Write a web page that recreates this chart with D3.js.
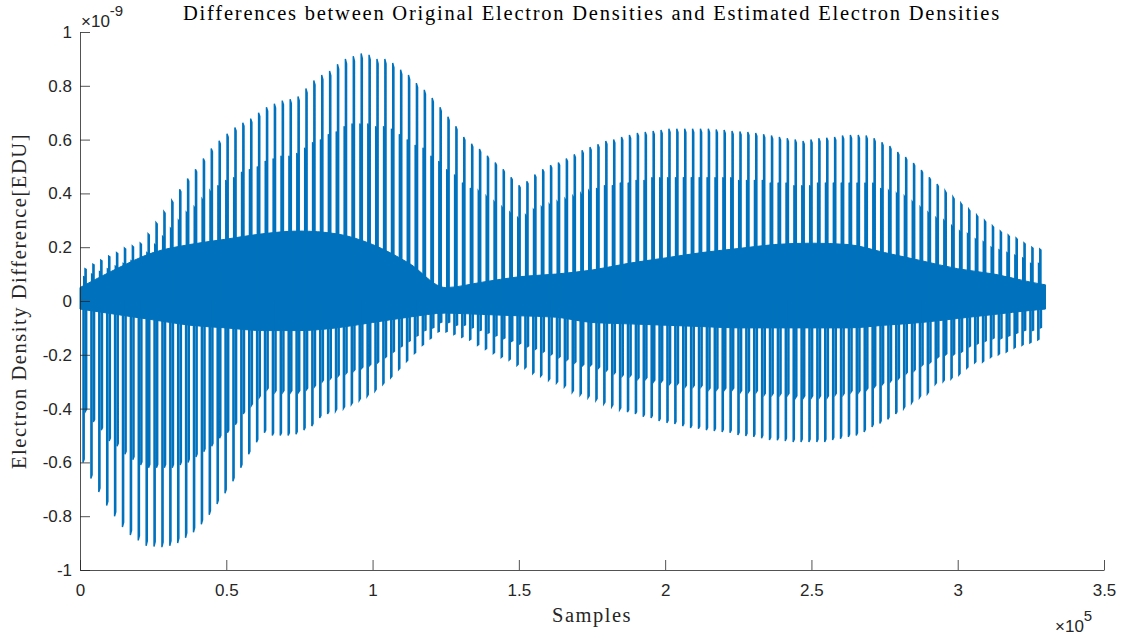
<!DOCTYPE html>
<html>
<head>
<meta charset="utf-8">
<script src="https://cdn.jsdelivr.net/npm/d3@7"></script>
<style>
  html, body { margin: 0; padding: 0; background: #ffffff; }
  svg { display: block; }
</style>
</head>
<body>
<svg id="chart" width="1130" height="637"></svg>
<script>
// ---------------- data (values in units of 1e-9 EDU, x in samples) ----------------
const titleText = "Differences between Original Electron Densities and Estimated Electron Densities";
const xLabelText = "Samples";
const yLabelText = "Electron Density Difference[EDU]";
const xTickValues = [0, 50000, 100000, 150000, 200000, 250000, 300000, 350000];
const xTickLabels = ["0", "0.5", "1", "1.5", "2", "2.5", "3", "3.5"];
const yTickValues = [-1, -0.8, -0.6, -0.4, -0.2, 0, 0.2, 0.4, 0.6, 0.8, 1];
const yTickLabels = ["-1", "-0.8", "-0.6", "-0.4", "-0.2", "0", "0.2", "0.4", "0.6", "0.8", "1"];

// spike train: one repetition every spikeStepSamples samples
const spikeFirstSample = 1700;
const spikeStepSamples = 2697;
const negSpikeOffsetSamples = -680;
const secondaryOffsetSamples = -450;

const spikeTops = [
  0.12, 0.137, 0.152, 0.167, 0.18, 0.197, 0.205, 0.215, 0.25, 0.292,
  0.333, 0.374, 0.415, 0.455, 0.49, 0.53, 0.567, 0.596, 0.622, 0.645,
  0.663, 0.678, 0.70, 0.72, 0.733, 0.745, 0.75, 0.76, 0.79, 0.82,
  0.84, 0.855, 0.88, 0.90, 0.91, 0.92, 0.915, 0.90, 0.90, 0.885,
  0.86, 0.84, 0.81, 0.785, 0.755, 0.72, 0.685, 0.65, 0.61, 0.585,
  0.565, 0.54, 0.515, 0.49, 0.46, 0.43, 0.445, 0.47, 0.49, 0.505,
  0.515, 0.53, 0.545, 0.56, 0.572, 0.583, 0.595, 0.60, 0.61, 0.617,
  0.625, 0.628, 0.632, 0.636, 0.64, 0.64, 0.64, 0.64, 0.64, 0.64,
  0.638, 0.636, 0.632, 0.63, 0.628, 0.625, 0.62, 0.615, 0.61, 0.605,
  0.60, 0.595, 0.60, 0.605, 0.607, 0.61, 0.615, 0.617, 0.617, 0.615,
  0.605, 0.59, 0.576, 0.554, 0.535, 0.513, 0.487, 0.46, 0.435, 0.41,
  0.387, 0.364, 0.342, 0.32, 0.30, 0.28, 0.26, 0.245, 0.234, 0.216,
  0.20, 0.193
];

const spikeBottoms = [
  -0.60, -0.66, -0.71, -0.76, -0.80, -0.84, -0.87, -0.89, -0.91, -0.913,
  -0.915, -0.91, -0.90, -0.88, -0.86, -0.83, -0.795, -0.755, -0.715, -0.67,
  -0.62, -0.57, -0.525, -0.49, -0.50, -0.50, -0.50, -0.495, -0.48, -0.465,
  -0.435, -0.42, -0.41, -0.40, -0.385, -0.37, -0.355, -0.335, -0.31, -0.285,
  -0.255, -0.225, -0.195, -0.165, -0.14, -0.115, -0.115, -0.125, -0.135, -0.145,
  -0.165, -0.18, -0.195, -0.21, -0.22, -0.24, -0.25, -0.27, -0.28, -0.295,
  -0.305, -0.32, -0.34, -0.35, -0.36, -0.37, -0.383, -0.394, -0.405, -0.413,
  -0.42, -0.43, -0.435, -0.446, -0.453, -0.457, -0.465, -0.472, -0.475, -0.48,
  -0.483, -0.487, -0.49, -0.498, -0.502, -0.505, -0.51, -0.517, -0.518, -0.52,
  -0.524, -0.524, -0.524, -0.524, -0.524, -0.517, -0.512, -0.505, -0.50, -0.487,
  -0.468, -0.455, -0.44, -0.42, -0.40, -0.38, -0.36, -0.345, -0.31, -0.30,
  -0.29, -0.275, -0.25, -0.23, -0.227, -0.21, -0.20, -0.19, -0.175, -0.165,
  -0.156, -0.145
];

// lower companion spikes next to each main spike
const secondaryTops = [
  0.09, 0.10, 0.11, 0.12, 0.13, 0.14, 0.15, 0.15, 0.18, 0.21,
  0.24, 0.27, 0.30, 0.33, 0.35, 0.38, 0.41, 0.43, 0.45, 0.46,
  0.48, 0.49, 0.50, 0.52, 0.53, 0.54, 0.54, 0.55, 0.57, 0.59,
  0.60, 0.62, 0.63, 0.65, 0.66, 0.66, 0.66, 0.65, 0.65, 0.64,
  0.62, 0.60, 0.58, 0.57, 0.54, 0.52, 0.49, 0.47, 0.44, 0.42,
  0.41, 0.39, 0.37, 0.35, 0.33, 0.31, 0.32, 0.34, 0.35, 0.36,
  0.37, 0.38, 0.39, 0.40, 0.41, 0.42, 0.43, 0.43, 0.44, 0.44,
  0.45, 0.45, 0.46, 0.46, 0.46, 0.46, 0.46, 0.46, 0.46, 0.46,
  0.46, 0.46, 0.46, 0.45, 0.45, 0.45, 0.45, 0.44, 0.44, 0.44,
  0.43, 0.43, 0.43, 0.44, 0.44, 0.44, 0.44, 0.44, 0.44, 0.44,
  0.44, 0.42, 0.41, 0.40, 0.39, 0.37, 0.35, 0.33, 0.31, 0.30,
  0.28, 0.26, 0.25, 0.23, 0.22, 0.20, 0.19, 0.18, 0.17, 0.16,
  0.14, 0.14
];
const secondaryBottoms = [
  -0.41, -0.45, -0.48, -0.52, -0.54, -0.57, -0.59, -0.61, -0.62, -0.62,
  -0.62, -0.62, -0.61, -0.60, -0.58, -0.56, -0.54, -0.51, -0.49, -0.46,
  -0.42, -0.39, -0.36, -0.33, -0.34, -0.34, -0.34, -0.34, -0.33, -0.32,
  -0.30, -0.29, -0.28, -0.27, -0.26, -0.25, -0.24, -0.23, -0.21, -0.19,
  -0.17, -0.15, -0.13, -0.11, -0.10, -0.08, -0.08, -0.09, -0.09, -0.10,
  -0.11, -0.12, -0.13, -0.14, -0.15, -0.16, -0.17, -0.18, -0.19, -0.20,
  -0.21, -0.22, -0.23, -0.24, -0.24, -0.25, -0.26, -0.27, -0.28, -0.28,
  -0.29, -0.29, -0.30, -0.30, -0.31, -0.31, -0.32, -0.32, -0.32, -0.33,
  -0.33, -0.33, -0.33, -0.34, -0.34, -0.34, -0.35, -0.35, -0.35, -0.35,
  -0.36, -0.36, -0.36, -0.36, -0.36, -0.35, -0.35, -0.34, -0.34, -0.33,
  -0.32, -0.31, -0.30, -0.29, -0.27, -0.26, -0.24, -0.23, -0.21, -0.20,
  -0.20, -0.19, -0.17, -0.16, -0.15, -0.14, -0.14, -0.13, -0.12, -0.11,
  -0.11, -0.10
];

// dense inner oscillation band (envelope)
const bandX = [0, 12500, 25000, 37500, 50000, 62500, 75000, 87500, 100000, 112500,
  125000, 137500, 150000, 162500, 175000, 187500, 200000, 212500, 225000, 237500,
  250000, 262500, 275000, 287500, 300000, 312500, 325000, 330000];
const bandUpper = [0.05, 0.12, 0.18, 0.21, 0.23, 0.25, 0.26, 0.25, 0.21, 0.14,
  0.05, 0.07, 0.09, 0.10, 0.115, 0.14, 0.16, 0.18, 0.195, 0.21,
  0.215, 0.21, 0.18, 0.15, 0.12, 0.10, 0.07, 0.06];
const bandLower = [-0.03, -0.05, -0.07, -0.09, -0.10, -0.11, -0.11, -0.10, -0.08, -0.06,
  -0.045, -0.05, -0.055, -0.06, -0.08, -0.085, -0.09, -0.095, -0.10, -0.10,
  -0.10, -0.10, -0.09, -0.08, -0.065, -0.05, -0.035, -0.03];

// ---------------- drawing ----------------
const W = 1130, H = 637;
const margin = {left: 80, right: 26, top: 32, bottom: 67};
const svg = d3.select("#chart");
const x = d3.scaleLinear().domain([0, 350000]).range([margin.left, W - margin.right]);
const y = d3.scaleLinear().domain([-1, 1]).range([H - margin.bottom, margin.top]);

const lineColor = "#0072BD";
const axisColor = "#262626";
const sansFont = "'Liberation Sans', Arial, Helvetica, sans-serif";
const serifFont = "'Liberation Serif', 'Times New Roman', serif";

const plot = svg.append("g");

const bandData = bandX.map((v, i) => ({x: v, u: bandUpper[i], l: bandLower[i]}));
plot.append("path")
  .datum(bandData)
  .attr("fill", lineColor)
  .attr("stroke", lineColor)
  .attr("stroke-width", 1)
  .attr("d", d3.area().x(d => x(d.x)).y0(d => y(d.l)).y1(d => y(d.u)).curve(d3.curveMonotoneX));

const spikes = spikeTops.map((t, i) => ({
  xs: spikeFirstSample + i * spikeStepSamples,
  top: t,
  bottom: spikeBottoms[i],
  top2: secondaryTops[i],
  bottom2: secondaryBottoms[i]
}));
const retWidth = 420; // samples between a spike's rise and its return
function spikeStroke(path, xs, v) {
  path.moveTo(x(xs), y(0));
  path.lineTo(x(xs), y(v));
  path.lineTo(x(xs + retWidth), y(v * 0.98));
  path.lineTo(x(xs + retWidth), y(0));
}
const pMain = d3.path();
const pSec = d3.path();
spikes.forEach(s => {
  const xb = s.xs + negSpikeOffsetSamples;
  spikeStroke(pMain, xb, s.bottom);
  spikeStroke(pMain, s.xs, s.top);
  spikeStroke(pSec, s.xs + secondaryOffsetSamples, s.top2);
  spikeStroke(pSec, xb - secondaryOffsetSamples + retWidth, s.bottom2);
});
plot.append("path")
  .attr("d", pSec.toString())
  .attr("fill", "none")
  .attr("stroke", lineColor)
  .attr("stroke-width", 1.3);
plot.append("path")
  .attr("d", pMain.toString())
  .attr("fill", "none")
  .attr("stroke", lineColor)
  .attr("stroke-width", 1.4);

// ---------------- axes ----------------
const xAxis = d3.axisBottom(x).tickValues(xTickValues)
  .tickFormat((d, i) => xTickLabels[i]).tickSizeInner(-10).tickSizeOuter(0).tickPadding(14);
const yAxis = d3.axisLeft(y).tickValues(yTickValues)
  .tickFormat((d, i) => yTickLabels[i]).tickSizeInner(-10).tickSizeOuter(0).tickPadding(8);

const gx = svg.append("g").attr("transform", `translate(0,${H - margin.bottom})`).call(xAxis);
const gy = svg.append("g").attr("transform", `translate(${margin.left},0)`).call(yAxis);
[gx, gy].forEach(g => {
  g.select(".domain").attr("stroke", axisColor).attr("stroke-width", 0.8);
  g.selectAll(".tick line").attr("stroke", axisColor).attr("stroke-width", 0.8);
  g.selectAll(".tick text").attr("fill", axisColor).style("font-family", sansFont).style("font-size", "17px");
});

// exponent labels
const expY = svg.append("text").attr("x", margin.left + 1).attr("y", 27)
  .style("font-family", sansFont).style("font-size", "17px").attr("fill", axisColor);
expY.append("tspan").text("\u00D710");
expY.append("tspan").attr("dy", -11).style("font-size", "15px").text("-9");

const expX = svg.append("text").attr("x", 1055).attr("y", 632)
  .style("font-family", sansFont).style("font-size", "17px").attr("fill", axisColor);
expX.append("tspan").text("\u00D710");
expX.append("tspan").attr("dy", -11).style("font-size", "15px").text("5");

// title and labels, spaced to the reference widths
function fitSpacing(sel, targetWidth, size) {
  sel.style("font-size", size + "px").style("letter-spacing", "0px");
  const w = sel.node().getComputedTextLength();
  const n = sel.text().length;
  sel.style("letter-spacing", ((targetWidth - w) / n).toFixed(3) + "px");
}
const cx = (margin.left + W - margin.right) / 2;
const title = svg.append("text").attr("x", cx).attr("y", 20).attr("text-anchor", "middle")
  .style("font-family", serifFont).attr("fill", "#000").text(titleText);
fitSpacing(title, 818, 20.5);

const xl = svg.append("text").attr("x", cx).attr("y", 622).attr("text-anchor", "middle")
  .style("font-family", serifFont).attr("fill", axisColor).text(xLabelText);
fitSpacing(xl, 80, 20.5);

const yl = svg.append("text").attr("transform", `translate(26,${(margin.top + H - margin.bottom) / 2}) rotate(-90)`)
  .attr("text-anchor", "middle")
  .style("font-family", serifFont).attr("fill", axisColor).text(yLabelText);
fitSpacing(yl, 336, 20.5);
</script>
</body>
</html>
